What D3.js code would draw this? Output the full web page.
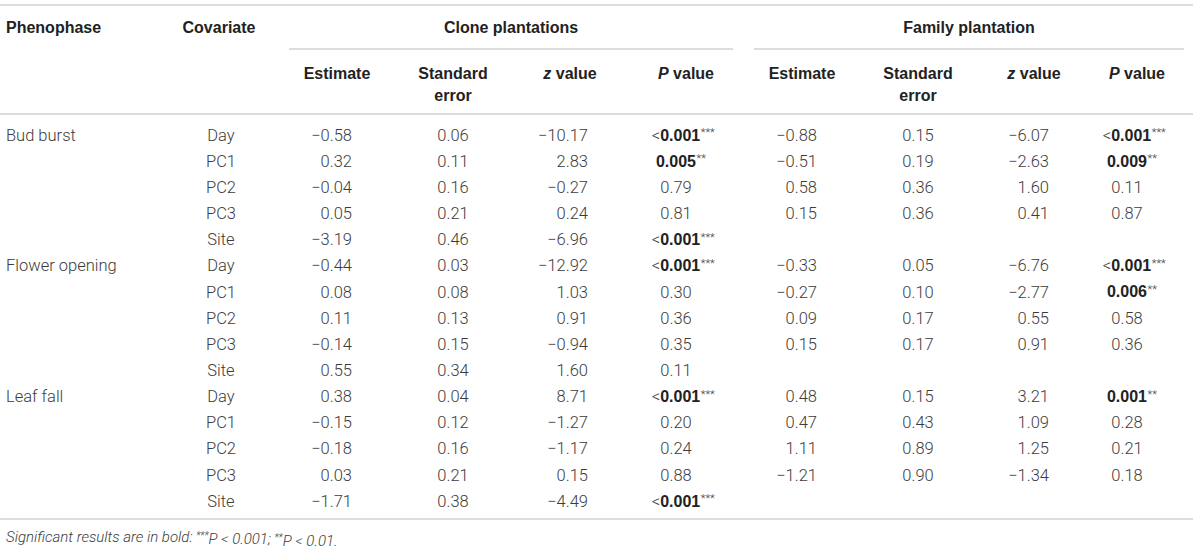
<!DOCTYPE html>
<html>
<head>
<meta charset="UTF-8">
<script src="https://d3js.org/d3.v7.min.js"></script>
<style>
    body { margin: 0; background: #fff; }
    .body-text { font-family: "Roboto", "Liberation Sans", sans-serif; font-weight: 300; fill: #3c3c3c; font-size: 16.5px; }
    .head-text { font-family: "Liberation Sans", Arial, sans-serif; font-weight: 700; fill: #222; font-size: 16px; }
    .bold-p { font-family: "Liberation Sans", Arial, sans-serif; font-weight: 700; fill: #222; font-size: 16px; }
    .stars { font-family: "Roboto", sans-serif; font-weight: 300; fill: #3c3c3c; font-size: 11px; }
    .rule { stroke: #d2d2d2; stroke-width: 1.4px; }
    .note { font-family: "Roboto", sans-serif; font-style: italic; font-weight: 300; fill: #3c3c3c; font-size: 15px; }
</style>
</head>
<body>
<svg id="table" width="1200" height="559"></svg>
<script>
const phenophases = ["Bud burst", "Flower opening", "Leaf fall"];
const covariates = ["Day", "PC1", "PC2", "PC3", "Site"];

const cloneEstimate = [-0.58, 0.32, -0.04, 0.05, -3.19, -0.44, 0.08, 0.11, -0.14, 0.55, 0.38, -0.15, -0.18, 0.03, -1.71];
const cloneSE = [0.06, 0.11, 0.16, 0.21, 0.46, 0.03, 0.08, 0.13, 0.15, 0.34, 0.04, 0.12, 0.16, 0.21, 0.38];
const cloneZ = [-10.17, 2.83, -0.27, 0.24, -6.96, -12.92, 1.03, 0.91, -0.94, 1.60, 8.71, -1.27, -1.17, 0.15, -4.49];
const cloneP = ["<0.001", "0.005", "0.79", "0.81", "<0.001", "<0.001", "0.30", "0.36", "0.35", "0.11", "<0.001", "0.20", "0.24", "0.88", "<0.001"];
const cloneSig = ["***", "**", "", "", "***", "***", "", "", "", "", "***", "", "", "", "***"];

const familyEstimate = [-0.88, -0.51, 0.58, 0.15, null, -0.33, -0.27, 0.09, 0.15, null, 0.48, 0.47, 1.11, -1.21, null];
const familySE = [0.15, 0.19, 0.36, 0.36, null, 0.05, 0.10, 0.17, 0.17, null, 0.15, 0.43, 0.89, 0.90, null];
const familyZ = [-6.07, -2.63, 1.60, 0.41, null, -6.76, -2.77, 0.55, 0.91, null, 3.21, 1.09, 1.25, -1.34, null];
const familyP = ["<0.001", "0.009", "0.11", "0.87", null, "<0.001", "0.006", "0.58", "0.36", null, "0.001", "0.28", "0.21", "0.18", null];
const familySig = ["***", "**", "", "", "", "***", "**", "", "", "", "**", "", "", "", ""];

const groups = ["Clone plantations", "Family plantation"];
const subHeads = [["Estimate"], ["Standard", "error"], ["z value"], ["P value"]];

const svg = d3.select("svg#table");
const fmt = d3.format(".2f");

// one row per phenophase x covariate
const rows = [];
phenophases.forEach((ph, i) => {
    covariates.forEach((cv, j) => {
        rows.push({phase: j === 0 ? ph : "", cov: cv, k: i * covariates.length + j});
    });
});

const y = d3.scalePoint()
    .domain(d3.range(rows.length))
    .range([135, 501]);

// column anchors (numbers) and header centres
const colX = d3.scaleOrdinal()
    .domain(["phase", "cov", "est0", "se0", "z0", "p0", "est1", "se1", "z1", "p1"])
    .range([6, 221, 352, 453, 588, 676, 817, 918, 1049, 1127]);
const headX = d3.scaleOrdinal()
    .domain(["est0", "se0", "z0", "p0", "est1", "se1", "z1", "p1"])
    .range([337, 453, 570, 686, 802, 918, 1034, 1137]);
const groupSpan = [[289, 733], [754, 1184]];

const lastRow = y(rows.length - 1);
const rules = [
    [0, 1193, 5],
    [groupSpan[0][0], groupSpan[0][1], 49],
    [groupSpan[1][0], groupSpan[1][1], 49],
    [0, 1193, 114],
    [0, 1193, lastRow + 18]
];
svg.selectAll("line.rule")
    .data(rules)
    .enter()
    .append("line")
    .attr("class", "rule")
    .attr("x1", d => d[0])
    .attr("x2", d => d[1])
    .attr("y1", d => d[2])
    .attr("y2", d => d[2]);

// header row 1
svg.append("text").attr("class", "head-text")
    .attr("x", colX("phase")).attr("y", 27).attr("dy", "0.35em")
    .text("Phenophase");
svg.append("text").attr("class", "head-text")
    .attr("x", 219).attr("y", 27).attr("dy", "0.35em")
    .attr("text-anchor", "middle")
    .text("Covariate");
svg.selectAll("text.group")
    .data(groups)
    .enter()
    .append("text")
    .attr("class", "head-text group")
    .attr("x", (d, i) => (groupSpan[i][0] + groupSpan[i][1]) / 2)
    .attr("y", 27).attr("dy", "0.35em")
    .attr("text-anchor", "middle")
    .text(d => d);

// header row 2
const keys = [["est0", "se0", "z0", "p0"], ["est1", "se1", "z1", "p1"]];
keys.forEach(ks => {
    ks.forEach((k, i) => {
        subHeads[i].forEach((ln, li) => {
            const t = svg.append("text")
                .attr("class", "head-text")
                .attr("text-anchor", "middle")
                .attr("x", headX(k))
                .attr("y", 73 + li * 22)
                .attr("dy", "0.35em");
            if (ln.endsWith(" value")) {
                t.append("tspan").attr("font-style", "italic").text(ln.split(" ")[0]);
                t.append("tspan").text(" value");
            } else {
                t.text(ln);
            }
        });
    });
});

// body rows
const rowG = svg.append("g").selectAll("g.row")
    .data(rows)
    .enter()
    .append("g")
    .attr("class", "row")
    .attr("transform", d => `translate(0,${y(d.k)})`);

rowG.append("text").attr("class", "body-text")
    .attr("x", colX("phase")).attr("dy", "0.35em")
    .text(d => d.phase);
rowG.append("text").attr("class", "body-text")
    .attr("x", colX("cov")).attr("dy", "0.35em")
    .attr("text-anchor", "middle")
    .text(d => d.cov);

const numCols = [
    {key: "est0", vals: cloneEstimate, anchor: "end"},
    {key: "se0", vals: cloneSE, anchor: "middle"},
    {key: "z0", vals: cloneZ, anchor: "end"},
    {key: "est1", vals: familyEstimate, anchor: "end"},
    {key: "se1", vals: familySE, anchor: "middle"},
    {key: "z1", vals: familyZ, anchor: "end"}
];
numCols.forEach(c => {
    rowG.append("text").attr("class", "body-text")
        .attr("x", colX(c.key)).attr("dy", "0.35em")
        .attr("text-anchor", c.anchor)
        .text(d => c.vals[d.k] == null ? "" : fmt(c.vals[d.k]));
});

// P values: significant ones bold, stars hang after the number
const pCols = [
    {key: "p0", vals: cloneP, sig: cloneSig},
    {key: "p1", vals: familyP, sig: familySig}
];
pCols.forEach(c => {
    rowG.each(function(d) {
        const v = c.vals[d.k];
        if (v == null) return;
        const s = c.sig[d.k];
        const g = d3.select(this);
        const t = g.append("text")
            .attr("dy", "0.35em")
            .attr("text-anchor", "middle")
            .attr("x", colX(c.key));
        if (s) {
            if (v.startsWith("<")) {
                t.append("tspan").attr("class", "body-text").text("<");
                t.append("tspan").attr("class", "bold-p").text(v.slice(1));
            } else {
                t.append("tspan").attr("class", "bold-p").text(v);
            }
            const w = t.node().getComputedTextLength();
            g.append("text").attr("class", "stars")
                .attr("x", colX(c.key) + w / 2 + 0.5)
                .attr("dy", "0.1em")
                .text(s);
        } else {
            t.attr("class", "body-text").text(v);
        }
    });
});

// footnote
const note = svg.append("text").attr("class", "note")
    .attr("x", 6).attr("y", lastRow + 36).attr("dy", "0.35em");
note.append("tspan").text("Significant results are in bold: ");
note.append("tspan").attr("font-size", "10px").attr("dy", "-0.35em").text("***");
note.append("tspan").attr("dy", "0.35em").text("P < 0.001; ");
note.append("tspan").attr("font-size", "10px").attr("dy", "-0.35em").text("**");
note.append("tspan").attr("dy", "0.35em").text("P < 0.01.");
</script>
</body>
</html>
